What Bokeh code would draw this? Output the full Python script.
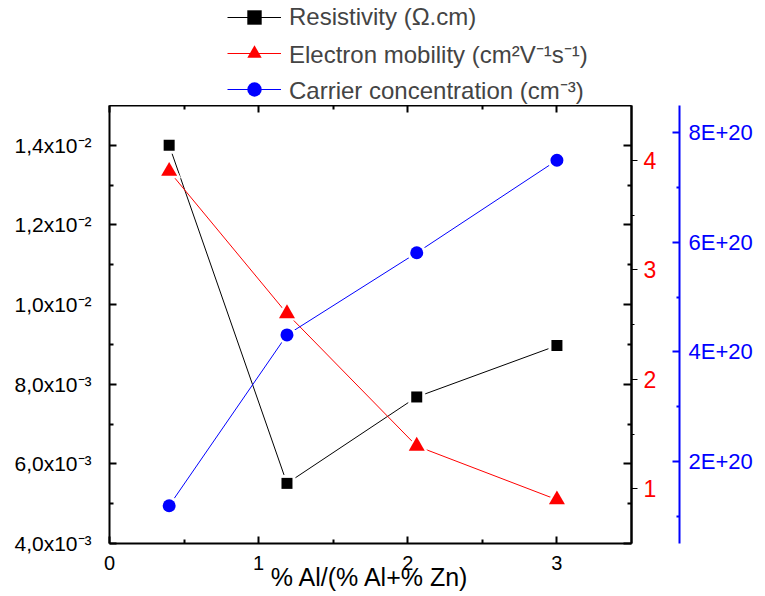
from bokeh.plotting import figure
from bokeh.layouts import column
from bokeh.models import (LinearAxis, Range1d, FixedTicker, CustomJSTickFormatter,
                          Legend, LegendItem)
from bokeh.embed import file_html
from bokeh.resources import INLINE

# Al content of the films and the measured electrical properties
x_al = [0.40, 1.19, 2.06, 3.00]
resistivity = [0.0140, 0.00551, 0.00768, 0.00897]      # ohm.cm
mobility = [3.90, 2.60, 1.39, 0.90]                     # cm2/V/s
carrier = [1.19e20, 4.31e20, 5.81e20, 7.50e20]          # cm-3

# axis ticks and their labels
x_ticks = [0, 1, 2, 3]
x_minor = [0.5, 1.5, 2.5]
x_labels = ["0", "1", "2", "3"]

res_ticks = [0.004, 0.006, 0.008, 0.010, 0.012, 0.014]
res_minor = [0.005, 0.007, 0.009, 0.011, 0.013]
res_labels = ["4,0x10⁻³", "6,0x10⁻³", "8,0x10⁻³", "1,0x10⁻²", "1,2x10⁻²", "1,4x10⁻²"]

mob_ticks = [1, 2, 3, 4]
mob_minor = [1.5, 2.5, 3.5]
mob_labels = ["1", "2", "3", "4"]

car_ticks = [2e20, 4e20, 6e20, 8e20]
car_minor = [1e20, 3e20, 5e20, 7e20]
car_labels = ["2E+20", "4E+20", "6E+20", "8E+20"]

series_names = ["Resistivity (Ω.cm)",
                "Electron mobility (cm²V⁻¹s⁻¹)",
                "Carrier concentration (cm⁻³)"]

FONT = "Liberation Sans"
RED = "#ff0000"
BLUE = "#0000ff"
LEGEND_H = 105


def label_formatter(tick_values, tick_texts):
    return CustomJSTickFormatter(args=dict(vals=tick_values, texts=tick_texts), code="""
        const i = vals.findIndex(t => Math.abs(t - tick) <= 1e-6 * Math.max(1, Math.abs(t)));
        return i < 0 ? "" : texts[i];
    """)


def blank_formatter():
    return CustomJSTickFormatter(code="return '';")


def style(ax, tick_in=0, tick_out=0, minor_in=0, minor_out=0, line_width=2,
          tick_width=2, color="black", label_color="black", label_size="20px",
          standoff=10):
    ax.axis_line_width = line_width
    ax.axis_line_color = color
    ax.major_tick_in = tick_in
    ax.major_tick_out = tick_out
    ax.minor_tick_in = minor_in
    ax.minor_tick_out = minor_out
    ax.major_tick_line_width = tick_width
    ax.minor_tick_line_width = tick_width
    ax.major_tick_line_color = color
    ax.minor_tick_line_color = color
    ax.major_label_text_color = label_color
    ax.major_label_text_font = FONT
    ax.major_label_text_font_size = label_size
    ax.major_label_standoff = standoff
    return ax


# ---- main plot -------------------------------------------------------------
p = figure(width=765, height=596 - LEGEND_H,
           x_range=Range1d(0, 3.5), y_range=Range1d(0.004, 0.015),
           x_axis_type=None, y_axis_type=None,
           output_backend="svg", toolbar_location=None,
           min_border_left=109, min_border_right=134,
           min_border_top=0, min_border_bottom=53)
p.outline_line_color = None
p.background_fill_color = "white"
p.border_fill_color = "white"

p.extra_y_ranges = {"mob": Range1d(0.5, 4.5), "car": Range1d(0.5e20, 8.5e20)}

# left: resistivity
left = LinearAxis(ticker=FixedTicker(ticks=res_ticks, minor_ticks=res_minor),
                  formatter=label_formatter(res_ticks, res_labels))
style(left, tick_in=7, minor_in=4, standoff=18, label_size="21px")
p.add_layout(left, "left")

# bottom: Al fraction
bottom = LinearAxis(ticker=FixedTicker(ticks=x_ticks, minor_ticks=x_minor),
                    formatter=label_formatter(x_ticks, x_labels),
                    axis_label="% Al/(% Al+% Zn)")
style(bottom, tick_in=7, minor_in=4, standoff=12, label_size="20px")
bottom.axis_label_text_font = FONT
bottom.axis_label_text_font_style = "normal"
bottom.axis_label_text_font_size = "25px"
bottom.axis_label_text_color = "black"
bottom.axis_label_standoff = -10
p.add_layout(bottom, "below")

# top frame edge with mirrored ticks
top = LinearAxis(ticker=FixedTicker(ticks=x_ticks, minor_ticks=x_minor),
                 formatter=blank_formatter())
style(top, tick_in=7, minor_in=4, standoff=0)
p.add_layout(top, "above")

# right frame edge with mirrored resistivity ticks
mirror = LinearAxis(ticker=FixedTicker(ticks=res_ticks, minor_ticks=res_minor),
                    formatter=blank_formatter())
style(mirror, tick_in=8, minor_in=4, standoff=0)
p.add_layout(mirror, "right")

# mobility axis
mob_axis = LinearAxis(y_range_name="mob",
                      ticker=FixedTicker(ticks=mob_ticks, minor_ticks=mob_minor),
                      formatter=label_formatter(mob_ticks, mob_labels),
                      axis_label=" ")
style(mob_axis, tick_out=6, minor_out=3, tick_width=1, label_color=RED,
      label_size="23px", standoff=6)
mob_axis.axis_label_text_font_size = "10px"
mob_axis.axis_label_standoff = 6
p.add_layout(mob_axis, "right")

# carrier concentration axis
car_axis = LinearAxis(y_range_name="car",
                      ticker=FixedTicker(ticks=car_ticks, minor_ticks=car_minor),
                      formatter=label_formatter(car_ticks, car_labels))
style(car_axis, tick_in=7, minor_in=3, color=BLUE, label_color=BLUE,
      label_size="22px", standoff=9)
p.add_layout(car_axis, "right")

# series: connecting lines
p.line(x_al, resistivity, line_color="black", line_width=1)
p.line(x_al, mobility, y_range_name="mob", line_color=RED, line_width=1)
p.line(x_al, carrier, y_range_name="car", line_color=BLUE, line_width=1)

# white halos leave a small gap between each line and its symbols
p.scatter(x_al, resistivity, marker="square", size=17, fill_color="white", line_color=None)
p.scatter(x_al, resistivity, marker="square", size=11, fill_color="black", line_color=None)
p.scatter(x_al, mobility, y_range_name="mob", marker="triangle", size=24,
          fill_color="white", line_color=None)
p.scatter(x_al, mobility, y_range_name="mob", marker="triangle", size=16,
          fill_color=RED, line_color=None)
p.scatter(x_al, carrier, y_range_name="car", marker="circle", size=19,
          fill_color="white", line_color=None)
p.scatter(x_al, carrier, y_range_name="car", marker="circle", size=13,
          fill_color=BLUE, line_color=None)

# ---- legend strip above the plot (frame aligned with the plot's frame) ------
lg = figure(width=765, height=LEGEND_H, x_range=Range1d(0, 1), y_range=Range1d(0, 1),
            x_axis_type=None, y_axis_type=None, output_backend="svg",
            toolbar_location=None, min_border=0)
lg.outline_line_color = None
lg.background_fill_color = "white"
lg.border_fill_color = "white"

# hidden copies of the series only provide the legend swatches
series = [(resistivity, "black", "square"),
          (mobility, RED, "triangle"),
          (carrier, BLUE, "circle")]
items = []
for name, (values, color, marker) in zip(series_names, series):
    ln = lg.line(x_al, values, line_color=color, line_width=1, visible=False)
    mk = lg.scatter(x_al, values, marker=marker, fill_color=color, line_color=None,
                    visible=False)
    items.append(LegendItem(label=name, renderers=[ln, mk]))

legend = Legend(items=items, location=(118, -2))
legend.background_fill_alpha = 0
legend.border_line_color = None
legend.inactive_fill_alpha = 0
legend.padding = 0
legend.margin = 0
legend.glyph_width = 54
legend.glyph_height = 36
legend.label_height = 36
legend.spacing = 0
legend.label_standoff = 8
legend.label_text_font = FONT
legend.label_text_font_size = "24px"
lg.add_layout(legend)

open("out.html", "w").write(file_html(column(lg, p, spacing=0), INLINE))
